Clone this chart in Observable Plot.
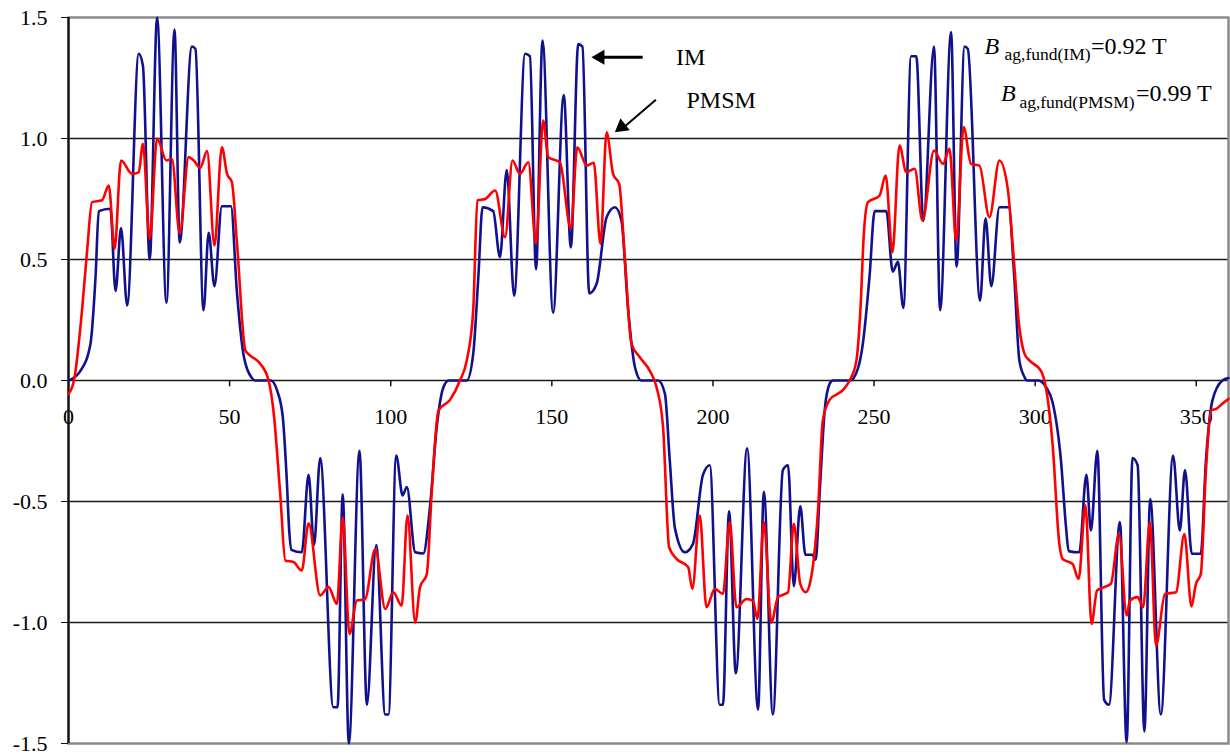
<!DOCTYPE html>
<html>
<head>
<meta charset="utf-8">
<script src="https://cdn.jsdelivr.net/npm/d3@7"></script>
<script src="https://cdn.jsdelivr.net/npm/@observablehq/plot@0.6"></script>
<style>
  html, body { margin: 0; padding: 0; background: #fff; }
  #chart svg { display: block; }
</style>
</head>
<body>
<div id="chart"></div>
<script>
// ---- data (angle in degrees, air-gap flux density in T) ----
const xTicks = [0, 50, 100, 150, 200, 250, 300, 350];
const yTicks = [-1.5, -1.0, -0.5, 0.0, 0.5, 1.0, 1.5];
const gridLevels = [-1.0, -0.5, 0.0, 0.5, 1.0];

// IM (blue)
const imData = [
  [0, 0.0], [3.7, 0.04], [6.8, 0.15], [8.4, 0.43], [9.4, 0.70], [13.0, 0.71], [14.6, 0.37], [16.3, 0.63],
  [18.2, 0.31], [21.8, 1.35], [23.1, 1.30], [25.2, 0.50], [27.5, 1.50], [30.4, 0.32], [32.9, 1.45],
  [34.5, 0.57], [38.3, 1.38], [39.4, 1.37], [41.9, 0.29], [43.5, 0.61], [45.3, 0.39], [47.6, 0.72],
  [50.4, 0.72], [52.3, 0.36], [54.4, 0.10], [56.9, 0.01], [58.0, 0.0], [62.8, 0.0], [64.7, -0.04],
  [66.5, -0.15], [67.7, -0.40], [68.5, -0.62], [69.2, -0.70], [72.4, -0.71], [74.5, -0.39], [76.2, -0.68],
  [78.1, -0.32], [82.2, -1.35], [83.5, -1.35], [85.1, -0.47], [87.0, -1.50], [90.3, -0.29], [92.6, -1.34],
  [95.5, -0.68], [98.3, -1.38], [99.3, -1.38], [101.7, -0.31], [103.7, -0.475], [105.0, -0.44],
  [107.6, -0.71], [110.1, -0.715], [112.2, -0.52], [114.3, -0.19], [116.3, -0.03], [118.0, 0.0],
  [123.6, 0.0], [125.6, 0.11], [127.2, 0.43], [128.5, 0.716], [131.8, 0.70], [133.9, 0.51], [136.0, 0.87],
  [138.3, 0.35], [141.7, 1.35], [143.2, 1.34], [145.1, 0.46], [147.1, 1.405], [150.4, 0.28], [153.7, 1.18],
  [155.9, 0.55], [158.2, 1.39], [159.5, 1.38], [161.6, 0.36], [163.9, 0.40], [167.0, 0.675], [169.6, 0.716],
  [171.6, 0.66], [173.7, 0.29], [175.8, 0.055], [177.8, 0.0], [183.0, 0.0], [185.1, -0.055], [186.6, -0.33],
  [188.2, -0.61], [191.3, -0.71], [193.8, -0.675], [196.9, -0.39], [199.0, -0.35], [202.1, -1.34],
  [203.1, -1.34], [205.0, -0.54], [207.1, -1.21], [210.6, -0.28], [214.0, -1.36], [215.8, -0.46],
  [218.6, -1.38], [221.7, -0.37], [223.3, -0.35], [225.1, -0.85], [227.1, -0.52], [228.7, -0.72],
  [230.8, -0.72], [231.9, -0.74], [233.1, -0.47], [234.7, -0.12], [236.2, -0.014], [237.2, 0.0],
  [242.6, 0.0], [245.0, 0.05], [246.5, 0.15], [248.6, 0.43], [250.2, 0.70], [253.8, 0.70], [255.8, 0.45],
  [257.4, 0.49], [259.1, 0.30], [261.5, 1.34], [263.1, 1.34], [265.3, 0.66], [268.6, 1.38], [270.5, 0.29],
  [273.9, 1.44], [275.6, 0.47], [278.1, 1.38], [279.1, 1.37], [282.9, 0.33], [284.6, 0.67], [286.4, 0.39],
  [288.9, 0.716], [291.8, 0.716], [293.5, 0.43], [295.1, 0.083], [296.7, 0.014], [297.4, 0.0], [301.0, 0.0],
  [303.5, -0.03], [305.4, -0.09], [308.0, -0.33], [309.6, -0.61], [310.4, -0.705], [313.7, -0.71],
  [315.9, -0.39], [317.3, -0.62], [319.3, -0.29], [321.4, -1.32], [322.9, -1.34], [326.3, -0.585],
  [328.4, -1.495], [330.2, -0.32], [331.8, -0.35], [333.9, -1.45], [335.7, -0.49], [339.0, -1.38],
  [342.8, -0.31], [344.9, -0.62], [346.5, -0.37], [348.6, -0.716], [351.4, -0.716], [353.0, -0.33],
  [355.0, -0.083], [358.1, 0.0], [360, 0.01]
];

// PMSM (red)
const pmsmData = [
  [0, -0.055], [1.7, 0.0], [4.2, 0.29], [5.8, 0.54], [7.3, 0.737], [10.4, 0.745], [12.5, 0.806],
  [14.3, 0.544], [16.3, 0.909], [19.7, 0.854], [21.8, 0.86], [23.1, 0.978], [25.2, 0.585], [27.5, 1.0],
  [30.4, 0.909], [32.1, 0.915], [34.5, 0.609], [37.3, 0.923], [38.8, 0.91], [40.9, 0.879], [43.0, 0.948],
  [45.3, 0.558], [47.6, 0.964], [49.2, 0.854], [50.7, 0.82], [52.3, 0.566], [54.9, 0.124], [56.4, 0.103],
  [59.5, 0.069], [62.1, 0.0], [63.6, -0.124], [65.7, -0.468], [67.3, -0.744], [69.8, -0.75], [72.4, -0.785],
  [74.5, -0.59], [78.1, -0.888], [80.7, -0.854], [83.3, -0.923], [85.1, -0.565], [87.2, -1.047],
  [89.5, -0.909], [92.0, -0.905], [95.2, -0.696], [98.3, -0.944], [100.8, -0.875], [103.4, -0.93],
  [105.2, -0.558], [107.6, -1.0], [109.1, -0.854], [111.2, -0.8], [112.7, -0.468], [114.8, -0.124],
  [118.4, -0.08], [121.5, 0.0], [123.6, 0.083], [125.6, 0.29], [126.9, 0.744], [129.3, 0.75],
  [132.4, 0.785], [135.5, 0.592], [137.8, 0.909], [140.1, 0.854], [142.7, 0.902], [145.1, 0.565],
  [147.3, 1.074], [148.9, 0.923], [152.5, 0.902], [155.9, 0.627], [157.9, 0.964], [160.8, 0.888],
  [163.0, 0.9], [165.1, 0.565], [167.0, 1.026], [169.0, 0.854], [170.9, 0.812], [172.7, 0.496],
  [174.7, 0.152], [177.3, 0.096], [180.4, 0.04], [182.5, -0.028], [184.5, -0.19], [186.4, -0.689],
  [188.7, -0.737], [192.3, -0.771], [193.6, -0.861], [195.9, -0.558], [198.0, -0.937], [200.6, -0.861],
  [203.1, -0.882], [205.2, -0.585], [207.3, -0.937], [210.4, -0.903], [212.4, -0.91], [213.8, -0.985],
  [215.8, -0.585], [218.1, -1.0], [220.2, -0.895], [223.3, -0.875], [225.1, -0.592], [227.1, -0.84],
  [228.8, -0.875], [230.5, -0.813], [232.6, -0.537], [234.1, -0.165], [236.2, -0.08], [240.3, -0.04],
  [242.4, 0.0], [244.5, 0.08], [245.8, 0.3], [246.8, 0.6], [248.1, 0.737], [251.7, 0.764], [253.6, 0.847],
  [255.7, 0.53], [257.9, 0.971], [260.0, 0.861], [262.6, 0.875], [265.0, 0.661], [268.6, 0.95],
  [271.4, 0.895], [273.4, 0.957], [275.5, 0.579], [277.8, 1.047], [280.1, 0.895], [282.7, 0.888],
  [285.8, 0.675], [288.9, 0.909], [291.5, 0.792], [293.0, 0.565], [295.1, 0.22], [296.7, 0.11],
  [298.2, 0.083], [301.8, 0.04], [303.3, -0.028], [305.4, -0.262], [307.5, -0.675], [308.5, -0.737],
  [311.6, -0.758], [313.5, -0.82], [315.6, -0.516], [317.5, -1.006], [319.2, -0.868], [321.4, -0.854],
  [323.5, -0.84], [326.0, -0.634], [328.4, -0.971], [329.4, -0.909], [331.8, -0.895], [333.5, -0.937],
  [335.6, -0.585], [337.5, -1.095], [340.3, -0.882], [343.7, -0.875], [346.3, -0.634], [348.5, -0.934],
  [349.9, -0.84], [351.4, -0.8], [353.0, -0.372], [354.6, -0.124], [356.2, -0.117], [358.1, -0.096],
  [360, -0.076]
];

// annotations (data coordinates)
const labelsMain = [
  {x: 188.5, y: 1.302, text: "IM"},
  {x: 191.8, y: 1.126, text: "PMSM"}
];
const arrowShafts = [
  {x1: 178.2, y1: 1.336, x2: 165.0, y2: 1.336, w: 3},
  {x1: 182.3, y1: 1.160, x2: 172.6, y2: 1.050, w: 2}
];
const arrowHeads = [
  {x: 162.3, y: 1.336, rotate: -90, dx: 8.6, dy: 0},
  {x: 169.6, y: 1.026, rotate: 231.7, dx: 6.7, dy: -5.3}
];
const bSymbols = [
  {x: 284.3, y: 1.350}, {x: 289.4, y: 1.157}
];
const bSubs = [
  {x: 290.5, y: 1.325, text: "ag,fund(IM)"},
  {x: 295.1, y: 1.127, text: "ag,fund(PMSM)"}
];
const bValues = [
  {x: 317.3, y: 1.350, text: "=0.92 T"},
  {x: 331.3, y: 1.157, text: "=0.99 T"}
];

const serif = "'Liberation Serif', 'Times New Roman', Times, serif";

const chart = Plot.plot({
  width: 1230,
  height: 756,
  marginLeft: 68,
  marginRight: 2,
  marginTop: 17,
  marginBottom: 13,
  x: {domain: [0, 360], axis: null},
  y: {domain: [-1.5, 1.5], axis: null},
  style: {fontFamily: serif, fontSize: "22px", color: "#000", background: "#fff"},
  marks: [
    Plot.ruleY(gridLevels, {stroke: "#1a1a1a", strokeWidth: 1.3}),
    Plot.frame({stroke: "#8a8a8a", strokeWidth: 2.5}),
    Plot.ruleX([0], {stroke: "#111", strokeWidth: 2.2}),
    Plot.axisY({ticks: yTicks, tickSize: 7, tickPadding: 14, tickFormat: d => d.toFixed(1), fontSize: 22, stroke: "#111"}),
    Plot.ruleX(xTicks.filter(d => d > 0), {x: d => d, y1: 0, y2: -0.026, stroke: "#111", strokeWidth: 1.5}),
    Plot.text(xTicks, {x: d => d, y: 0, dy: 36, text: d => String(d), fontSize: 22, fill: "#000"}),
    Plot.line(imData, {x: d => d[0], y: d => d[1], stroke: "#11118e", strokeWidth: 2.6, curve: "monotone-x"}),
    Plot.line(pmsmData, {x: d => d[0], y: d => d[1], stroke: "#ff0000", strokeWidth: 2.6, curve: "monotone-x"}),
    Plot.link(arrowShafts, {x1: "x1", y1: "y1", x2: "x2", y2: "y2", stroke: "#000", strokeWidth: d => d.w}),
    Plot.dot(arrowHeads.slice(0, 1), {x: "x", y: "y", symbol: "triangle", r: 5.6, fill: "#000", stroke: "none", rotate: -90, dx: 8.6, dy: 0}),
    Plot.dot(arrowHeads.slice(1), {x: "x", y: "y", symbol: "triangle", r: 5.6, fill: "#000", stroke: "none", rotate: 231.7, dx: 6.7, dy: -5.3}),
    Plot.text(labelsMain, {x: "x", y: "y", text: "text", textAnchor: "start", lineAnchor: "bottom", fontSize: 24, fill: "#000"}),
    Plot.text(bSymbols, {x: "x", y: "y", text: () => "B", textAnchor: "start", lineAnchor: "bottom", fontSize: 24, fontStyle: "italic", fill: "#000"}),
    Plot.text(bSubs, {x: "x", y: "y", text: "text", textAnchor: "start", lineAnchor: "bottom", fontSize: 17.5, fill: "#000"}),
    Plot.text(bValues, {x: "x", y: "y", text: "text", textAnchor: "start", lineAnchor: "bottom", fontSize: 24, fill: "#000"})
  ]
});
document.getElementById("chart").appendChild(chart);
</script>
</body>
</html>
